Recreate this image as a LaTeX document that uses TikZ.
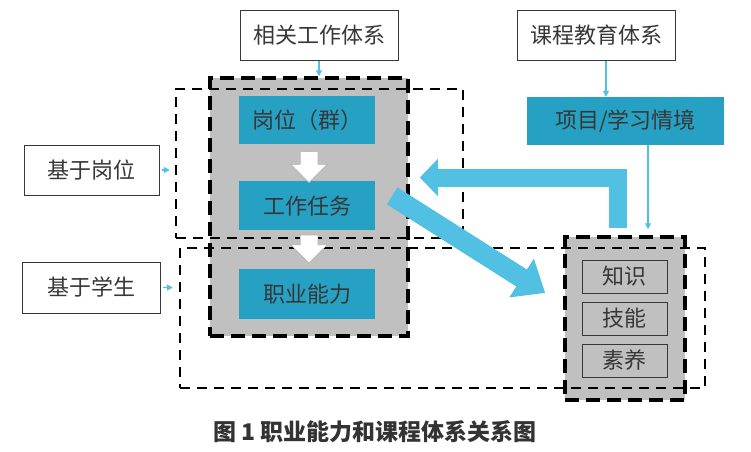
\documentclass[tikz,border=0pt]{standalone}
\usepackage{fontspec}
\newfontfamily\cjk{Noto Sans CJK SC}
\usepackage{xcolor}
\usepackage{tikz}
\usetikzlibrary{shapes,arrows.meta,positioning,calc}

\definecolor{boxblue}{RGB}{38,160,195}
\definecolor{arrowblue}{RGB}{82,192,226}
\definecolor{panelgray}{RGB}{192,192,192}
\definecolor{textgray}{RGB}{55,55,55}

\begin{document}
\begin{tikzpicture}[
    x=1pt, y=-1pt,
    every node/.style={font=\cjk\fontsize{22}{26}\selectfont, text=textgray},
    label/.style={rectangle, draw=textgray, line width=1pt, fill=white, minimum width=158pt, minimum height=50pt},
    block/.style={rectangle, fill=boxblue, minimum width=136pt, minimum height=49pt},
    item/.style={rectangle, draw=textgray, line width=1pt, fill=panelgray, minimum width=85pt, minimum height=33pt},
    panel/.style={rectangle, fill=panelgray, draw=black, line width=3.5pt, dash pattern=on 14pt off 7pt},
    zone/.style={rectangle, draw=black, line width=2.5pt, dash pattern=on 10pt off 7pt},
    downarrow/.style={single arrow, shape border rotate=270, draw=gray!60, line width=0.6pt, fill=white, minimum width=36pt, single arrow head extend=9.5pt, inner sep=0pt},
    thinarrow/.style={draw=arrowblue, line width=1.2pt, -{Triangle[length=6pt,width=6pt]}},
    bigarrow/.style={draw=arrowblue, line width=18pt, -{Triangle[length=18pt,width=36pt]}}
]
    \useasboundingbox (0,0) rectangle (751,451);

    % Panels
    \node[panel, minimum width=198pt, minimum height=258pt] (gzbox) at (309,207) {};
    \node[panel, minimum width=120pt, minimum height=163pt] (ksp) at (625,318.5) {};

    % Zones
    \node[zone, minimum width=287pt, minimum height=149pt] (gwbox) at (319.5,163.5) {};
    \node[zone, minimum width=525pt, minimum height=140pt] (xsbox) at (442.5,318) {};

    % Labels
    \node[label] (xgtx) at (319,35) {相关工作体系};
    \node[label] (kcjy) at (596,35) {课程教育体系};
    \node[label, minimum width=135pt] (jygw) at (91.5,170) {基于岗位};
    \node[label, minimum width=138pt, minimum height=51pt] (jyxs) at (91,287.5) {基于学生};

    % Blocks
    \node[block, minimum height=48pt] (gwq) at (307,120) {岗位（群）};
    \node[block, below=37pt of gwq] (gzrw) {工作任务};
    \node[block, minimum height=50pt, below=38pt of gzrw] (zynl) {职业能力};
    \node[block, minimum width=197pt, minimum height=48pt] (xmqj) at (625.5,121) {项目/学习情境};

    \node[item] (zs) at (624.5,276.5) {知识};
    \node[item, below=8pt of zs] (jn) {技能};
    \node[item, below=8pt of jn] (sy) {素养};

    % White arrows
    \node[downarrow, minimum height=31pt] (wa1) at ($(gwq.south)+(2,18.5)$) {\phantom{\rule{17pt}{17pt}}};
    \node[downarrow, minimum height=28pt] (wa2) at ($(gzrw.south)+(2,14)$) {\phantom{\rule{17pt}{17pt}}};

    % Arrows
    \draw[thinarrow] (xgtx.south) -- (xgtx.south |- gzbox.north);
    \draw[thinarrow] ([xshift=10pt]kcjy.south) -- ([xshift=10pt]kcjy.south |- xmqj.north);
    \draw[thinarrow, shorten >=6pt] ([xshift=22.5pt]xmqj.south) -- ([xshift=22.5pt]xmqj.south |- ksp.north);
    \draw[thinarrow, shorten <=2pt, shorten >=5pt] (jygw.east) -- (jygw.east -| gwbox.west);
    \draw[thinarrow, shorten <=2pt, shorten >=6pt] (jyxs.east) -- (jyxs.east -| xsbox.west);

    \draw[bigarrow] ([xshift=-7pt,yshift=7pt]ksp.north) |- ([xshift=10pt,yshift=29.5pt]gzbox.east);
    \draw[bigarrow, line width=20pt, -{Triangle[length=28pt,width=44pt]}] ([xshift=17pt,yshift=10pt]gzrw.east) -- ([xshift=-18pt,yshift=25.5pt]ksp.west);

    % Caption
    \node[font=\cjk\bfseries\fontsize{23}{27}\selectfont, text=black!80] (cap) at (375,432) {图 1 职业能力和课程体系关系图};
\end{tikzpicture}
\end{document}
